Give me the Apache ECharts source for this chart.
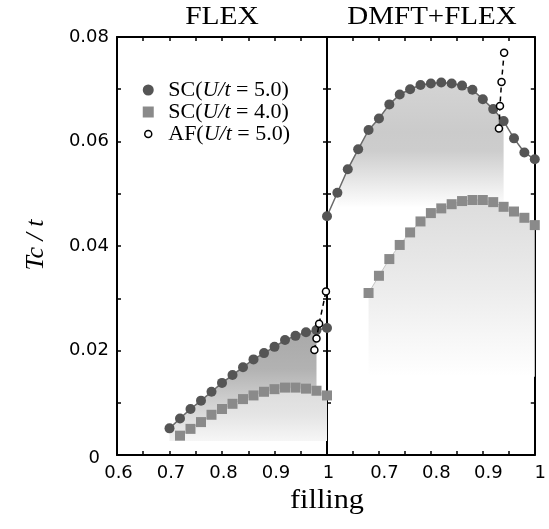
<!DOCTYPE html>
<html><head><meta charset="utf-8">
<script src="https://cdn.jsdelivr.net/npm/echarts@6/dist/echarts.min.js"></script>
<style>html,body{margin:0;padding:0;background:#fff}#c{width:549px;height:529px}</style>
</head><body><div id="c"></div>
<script>
// ---- data ----
const panelTitles = ['FLEX', 'DMFT+FLEX'];
const seriesNames = ['SC(U/t = 5.0)', 'SC(U/t = 4.0)', 'AF(U/t = 5.0)'];
const xTickLabels = ['0.6', '0.7', '0.8', '0.9', '1'];
const yTickLabels = ['0', '0.02', '0.04', '0.06', '0.08'];

// FLEX panel
const fillL_SC5 = [0.70,0.72,0.74,0.76,0.78,0.80,0.82,0.84,0.86,0.88,0.90,0.92,0.94,0.96,0.98,1.00];
const tcL_SC5   = [0.0051,0.0070,0.0088,0.0104,0.0121,0.0138,0.0153,0.0168,0.0183,0.0195,0.0207,0.0220,0.0228,0.0235,0.0239,0.0243];
const fillL_SC4 = [0.72,0.74,0.76,0.78,0.80,0.82,0.84,0.86,0.88,0.90,0.92,0.94,0.96,0.98,1.00];
const tcL_SC4   = [0.0037,0.0050,0.0063,0.0077,0.0088,0.0098,0.0107,0.0114,0.0121,0.0126,0.0129,0.0129,0.0127,0.0123,0.0114];
const fillL_AF  = [0.976,0.980,0.985,0.998];
const tcL_AF    = [0.0201,0.0223,0.0251,0.0313];

// DMFT+FLEX panel
const fillR_SC5 = [0.60,0.62,0.64,0.66,0.68,0.70,0.72,0.74,0.76,0.78,0.80,0.82,0.84,0.86,0.88,0.90,0.92,0.94,0.96,0.98,1.00];
const tcR_SC5   = [0.0457,0.0502,0.0547,0.0585,0.0622,0.0644,0.0671,0.0690,0.0700,0.0708,0.0711,0.0713,0.0711,0.0707,0.0699,0.0681,0.0662,0.0639,0.0606,0.0579,0.0566];
const fillR_SC4 = [0.68,0.70,0.72,0.74,0.76,0.78,0.80,0.82,0.84,0.86,0.88,0.90,0.92,0.94,0.96,0.98,1.00];
const tcR_SC4   = [0.0310,0.0343,0.0375,0.0402,0.0426,0.0447,0.0463,0.0472,0.0480,0.0486,0.0488,0.0488,0.0484,0.0475,0.0466,0.0454,0.0440];
const fillR_AF  = [0.931,0.933,0.936,0.941];
const tcR_AF    = [0.0625,0.0668,0.0714,0.0770];

// ---- build ----
const zip = (a, b) => a.map((v, i) => [v, b[i]]);
const SERIF = '"Liberation Serif","Times New Roman",serif';
const SANS = '"DejaVu Sans",sans-serif';

function grad(stops) {
  return new echarts.graphic.LinearGradient(0, 0, 0, 1, stops.map((c, i) => ({offset: c[0], color: c[1]})));
}

const tickStyle = {color: '#000', width: 1.5};
function xAx(grid, pos, labels, hideFirst) {
  return {
    type: 'value', gridIndex: grid, position: pos, min: 0.6, max: 1, interval: 0.1,
    axisLine: {show: true, onZero: false, lineStyle: {color: '#000', width: 2}},
    axisTick: {show: true, inside: true, length: 4, lineStyle: tickStyle},
    minorTick: {show: true, splitNumber: 2, length: 4, lineStyle: tickStyle},
    splitLine: {show: false},
    axisLabel: labels ? {
      show: true, margin: 9, color: '#000', fontFamily: SANS, fontSize: 18,
      padding: hideFirst ? [0, 0, 0, 11] : [0, 0, 0, 3],
      formatter: v => {
        const i = Math.round((v - 0.6) / 0.1);
        if (hideFirst && i === 0) return '';
        return xTickLabels[i];
      }
    } : {show: false}
  };
}
function yAx(grid, pos, labels) {
  return {
    type: 'value', gridIndex: grid, position: pos, min: 0, max: 0.08, interval: 0.02,
    axisLine: {show: true, onZero: false, lineStyle: {color: '#000', width: 2}},
    axisTick: {show: true, inside: true, length: 4, lineStyle: tickStyle},
    minorTick: {show: true, splitNumber: 2, length: 4, lineStyle: tickStyle},
    splitLine: {show: false},
    axisLabel: labels ? {
      show: true, margin: 8, color: '#000', fontFamily: SANS, fontSize: 18,
      formatter: v => {
        const i = Math.round(v / 0.02);
        return i === 0 ? '{z|' + yTickLabels[0] + '}' : yTickLabels[i];
      },
      rich: {z: {fontFamily: SANS, fontSize: 18, color: '#000', padding: [6, 9, 0, 0]}}
    } : {show: false}
  };
}

function panelSeries(xi, yi, d, fillC, fillS) {
  return [
    {type: 'line', xAxisIndex: xi, yAxisIndex: yi, silent: true, symbol: 'none', z: 1,
     data: fillC.data, lineStyle: {opacity: 0}, areaStyle: {origin: fillC.origin, color: grad(fillC.stops), opacity: 1}},
    {type: 'line', xAxisIndex: xi, yAxisIndex: yi, silent: true, symbol: 'none', z: 2,
     data: fillS.data, lineStyle: {opacity: 0}, areaStyle: {origin: fillS.origin, color: grad(fillS.stops), opacity: 1}},
    {name: seriesNames[1], type: 'line', xAxisIndex: xi, yAxisIndex: yi, z: 3,
     data: d.sc4, symbol: 'rect', symbolSize: 10, itemStyle: {color: '#8a8a8a'},
     lineStyle: {color: '#c4c4c4', width: 1}},
    {name: seriesNames[0], type: 'line', xAxisIndex: xi, yAxisIndex: yi, z: 4,
     data: d.sc5, symbol: 'circle', symbolSize: 10, itemStyle: {color: '#555555'},
     lineStyle: {color: '#6a6a6a', width: 1.5}},
    {name: seriesNames[2], type: 'line', xAxisIndex: xi, yAxisIndex: yi, z: 5,
     data: d.af, symbol: 'circle', symbolSize: 7,
     itemStyle: {color: '#ffffff', borderColor: '#000', borderWidth: 1.5},
     lineStyle: {color: '#000', width: 1.5, type: [5, 4]}}
  ];
}

const L = {sc5: zip(fillL_SC5, tcL_SC5), sc4: zip(fillL_SC4, tcL_SC4), af: zip(fillL_AF, tcL_AF)};
const R = {sc5: zip(fillR_SC5, tcR_SC5), sc4: zip(fillR_SC4, tcR_SC4), af: zip(fillR_AF, tcR_AF)};

const series = [].concat(
  panelSeries(0, 0, L,
    {data: L.sc5.slice(0, 15), origin: 0.0027, stops: [[0, '#a9a9a9'], [0.35, '#b2b2b2'], [0.6, '#cbcbcb'], [1, '#f0f0f0']]},
    {data: L.sc4, origin: 0.0027, stops: [[0, '#dcdcdc'], [0.5, '#e4e4e4'], [1, '#f6f6f6']]}),
  panelSeries(2, 2, R,
    {data: R.sc5.slice(1, 18), origin: 0.0475, stops: [[0, '#d4d4d4'], [0.4, '#cbcbcb'], [0.55, '#cdcdcd'], [1, '#fefefe']]},
    {data: R.sc4, origin: 0.015, stops: [[0, '#dcdcdc'], [0.5, '#ececec'], [1, '#ffffff']]})
);

const chart = echarts.init(document.getElementById('c'), null, {renderer: 'canvas'});
chart.setOption({
  animation: false,
  backgroundColor: '#fff',
  grid: [
    {left: 117, top: 37, width: 210, height: 418},
    {left: 327, top: 37, width: 209, height: 418}
  ],
  xAxis: [xAx(0, 'bottom', true, false), xAx(0, 'top', false), xAx(1, 'bottom', true, true), xAx(1, 'top', false)],
  yAxis: [yAx(0, 'left', true), yAx(0, 'right', false), yAx(1, 'left', false), yAx(1, 'right', false)],
  legend: {
    orient: 'vertical', left: 137, top: 74, itemGap: 0, itemWidth: 30, itemHeight: 11,
    selectedMode: false,
    data: [
      {name: seriesNames[0], icon: 'circle', itemStyle: {color: '#555555', borderWidth: 0}},
      {name: seriesNames[1], icon: 'path://M0,0L10,0L10,10L0,10Z', itemStyle: {color: '#8a8a8a', borderWidth: 0}},
      {name: seriesNames[2], icon: 'path://M-5.5,-5.5M5.5,5.5M3.5,0A3.5,3.5,0,1,1,-3.5,0A3.5,3.5,0,1,1,3.5,0Z',
       itemStyle: {color: '#ffffff', borderColor: '#000', borderWidth: 1.5}}
    ],
    textStyle: {fontFamily: SERIF, fontSize: 22, color: '#000', lineHeight: 22,
      rich: {i: {fontFamily: SERIF, fontSize: 22, fontStyle: 'italic', color: '#000', lineHeight: 22}}},
    formatter: n => n.replace('U/t', '{i|U/t}')
  },
  graphic: [
    {type: 'text', x: 222, y: 17, scaleX: 1.18, style: {text: panelTitles[0], font: '25px ' + SERIF, fill: '#000', textAlign: 'center', textVerticalAlign: 'middle'}},
    {type: 'text', x: 432, y: 17, scaleX: 1.16, style: {text: panelTitles[1], font: '25px ' + SERIF, fill: '#000', textAlign: 'center', textVerticalAlign: 'middle'}},
    {type: 'text', x: 327, y: 501, scaleX: 1.12, style: {text: 'filling', font: '27px ' + SERIF, fill: '#000', textAlign: 'center', textVerticalAlign: 'middle'}},
    {type: 'text', x: 36, y: 245, rotation: Math.PI / 2, style: {text: 'Tc / t', font: 'italic 26px ' + SERIF, fill: '#000', textAlign: 'center', textVerticalAlign: 'middle'}}
  ],
  series: series
});
</script>
</body></html>
